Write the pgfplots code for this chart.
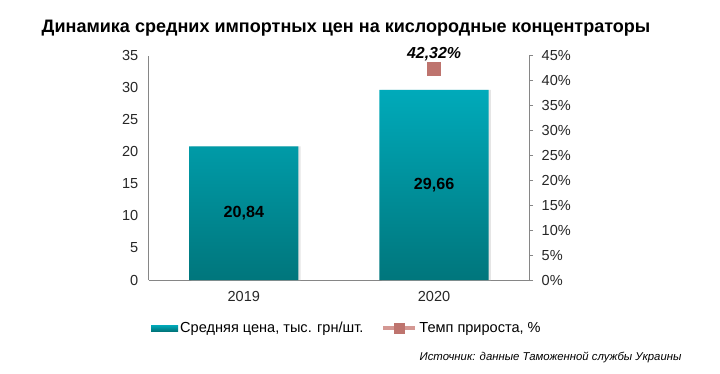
\documentclass[border=0pt]{standalone}
\usepackage{pgfplots}
\pgfplotsset{compat=1.18}
\usepackage{fontspec}
\setmainfont{Liberation Sans}
\definecolor{tealtop}{RGB}{0,170,186}
\definecolor{tealbot}{RGB}{0,118,124}
\definecolor{mk}{RGB}{190,116,110}
\definecolor{mkline}{RGB}{212,152,147}
\definecolor{axgray}{RGB}{134,134,134}
\begin{document}
\begin{tikzpicture}[x=1bp,y=1bp]
\useasboundingbox (0,0) rectangle (720,373);
\node[font=\fontsize{18.1}{21}\selectfont\bfseries] at (346,345) {Динамика средних импортных цен на кислородные концентраторы};
\node[anchor=east,font=\fontsize{11.4}{14}\selectfont\itshape] at (685,15.5) {Источник: данные Таможенной службы Украины};
\begin{axis}[
  at={(148.7bp,93bp)}, anchor=south west, scale only axis,
  width=380.5bp, height=224.3bp,
  xmin=-0.5, xmax=1.5, ymin=0, ymax=35,
  xtick={0,1}, xticklabels={2019,2020},
  ytick={0,5,...,35},
  axis x line*=bottom, axis y line*=left,
  axis line style={draw=axgray, line width=0.8bp, -},
  major tick length=0pt,
  /pgf/number format/assume math mode=true,
  ticklabel style={font=\fontsize{14.6}{17}\selectfont, text=black!85},
  yticklabel style={xshift=-7bp},
  xticklabel style={yshift=-8bp},
  legend columns=2,
  legend style={at={(0.521,-0.214)}, anchor=center, draw=none, fill=none,
    font=\fontsize{14.6}{17}\selectfont, /tikz/every even column/.append style={column sep=16bp},
    inner sep=0pt, nodes={inner xsep=2bp}},
  legend cell align=left,
]
\addplot[ybar, bar width=0.574, draw=none, fill=black!10, bar shift=0.011, forget plot]
  coordinates {(0,20.84) (1,29.66)};
\addplot[ybar, bar width=0.574, draw=none, top color=tealtop, bottom color=tealbot,
  nodes near coords,
  visualization depends on={y \as \rawy},
  every node near coord/.append style={anchor=center, font=\fontsize{16.2}{19}\selectfont\bfseries, text=black,
     shift={(axis direction cs:0,-\rawy/2)},
     /pgf/number format/.cd, use comma, fixed, precision=2, fixed zerofill},
  legend image code/.code={\fill[tealbot!70!tealtop] (0bp,-3bp) rectangle (27bp,3bp);}
] coordinates {(0,20.84) (1,29.66)};
\addlegendentry{Средняя цена, тыс. грн/шт.}
\addlegendimage{legend image code/.code={
  \draw[mkline, line width=4bp] (0bp,0bp) -- (32bp,0bp);
  \fill[mk] (11bp,-5bp) rectangle (21bp,5bp);}}
\addlegendentry{Темп прироста, \%}
\end{axis}
\begin{axis}[
  at={(148.7bp,93bp)}, anchor=south west, scale only axis,
  width=380.5bp, height=224.3bp,
  xmin=-0.5, xmax=1.5, ymin=0, ymax=45,
  ytick={0,5,...,45},
  yticklabel={\pgfmathprintnumber{\tick}\%},
  axis y line*=right, axis x line=none,
  axis line style={draw=axgray, line width=0.8bp, -},
  tick style={draw=axgray, line width=0.8bp},
  tick align=outside, major tick length=4bp,
  /pgf/number format/assume math mode=true,
  ticklabel style={font=\fontsize{14.6}{17}\selectfont, text=black!85},
  yticklabel style={xshift=5bp},
]
\addplot[only marks, mark=square*, mark size=6.5bp,
  mark options={draw=mk, fill=mk},
  nodes near coords={42,32\%},
  every node near coord/.append style={anchor=south, yshift=5bp, font=\fontsize{16}{19}\selectfont\bfseries\itshape, text=black}
] coordinates {(1,42.32)};
\end{axis}
\end{tikzpicture}
\end{document}
